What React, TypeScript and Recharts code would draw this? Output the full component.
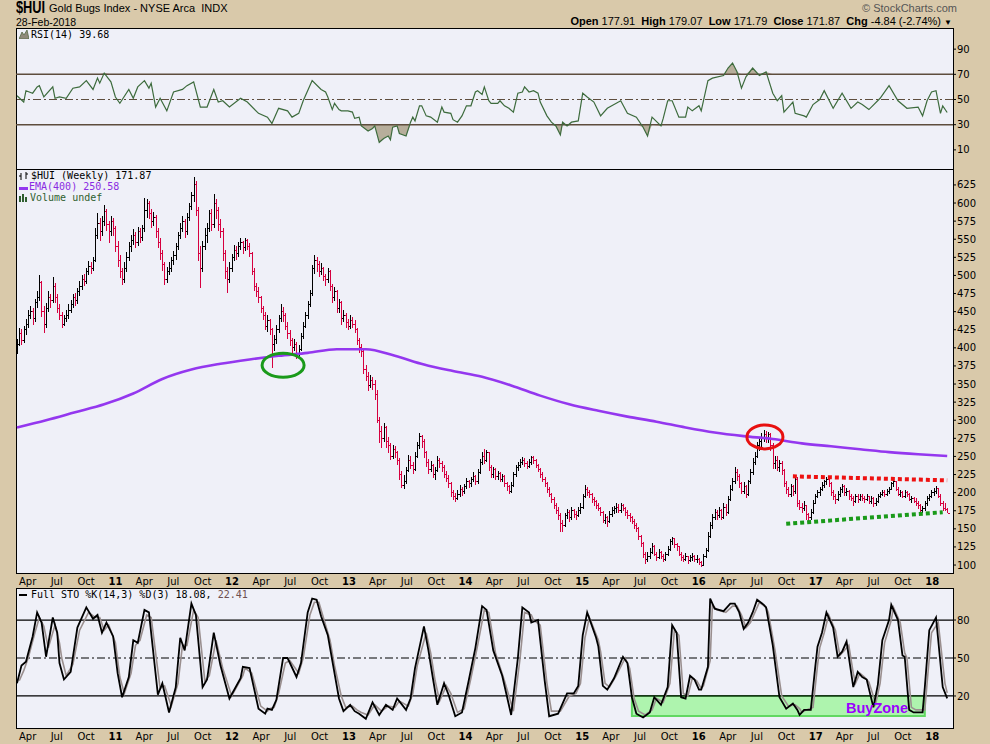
import React from 'react';
import { ComposedChart, Bar, Line, Area, XAxis, YAxis, ReferenceLine, ReferenceArea, ReferenceDot } from 'recharts';

// weekly bars as [high, low, close]; week 0 = week ending 5-Mar-2010
const bars2010 = [
  [412, 392, 405], [428, 402, 420], [426, 404, 410], [430, 406, 425], [440, 418, 432], [452, 428, 445], [458, 440, 450], [455, 432, 440], [468, 436, 462], [478, 455, 470],
  [500, 465, 490], [492, 442, 450], [458, 420, 432], [462, 428, 455], [478, 450, 470], [475, 455, 465], [498, 462, 485], [490, 462, 470], [474, 448, 455], [460, 438, 445],
  [450, 428, 432], [446, 430, 440], [452, 435, 445], [460, 440, 452], [466, 448, 460], [475, 455, 470], [476, 458, 465], [482, 460, 478], [492, 472, 485], [500, 480, 495],
  [502, 485, 492], [510, 488, 505], [520, 500, 512], [518, 502, 510], [526, 506, 520], [565, 518, 555], [586, 550, 572], [580, 548, 560], [582, 555, 575], [597, 568, 588],
  [592, 562, 570], [575, 545, 560], [582, 555, 575], [580, 555, 565],
];
const bars2011 = [
  [568, 532, 540], [548, 512, 520], [528, 496, 505], [510, 487, 495], [518, 490, 510], [532, 505, 525], [546, 520, 540], [556, 532, 548], [564, 542, 555], [560, 538, 545],
  [567, 540, 560], [565, 545, 552], [570, 548, 565], [607, 560, 590], [605, 580, 600], [603, 578, 585], [592, 565, 575], [588, 568, 580], [584, 552, 560], [565, 538, 545],
  [552, 522, 530], [535, 506, 515], [518, 487, 495], [512, 490, 505], [518, 500, 510], [526, 505, 520], [534, 514, 528], [545, 522, 540], [560, 535, 555], [572, 550, 565],
  [582, 560, 575], [578, 552, 560], [586, 556, 580], [600, 575, 595], [615, 590, 610], [636, 602, 625], [630, 582, 590], [595, 520, 530], [540, 482, 510], [548, 505, 540],
  [565, 535, 555], [572, 545, 565], [590, 560, 585], [592, 562, 570], [612, 566, 600], [606, 578, 590], [594, 562, 570], [578, 552, 560], [565, 520, 530], [535, 495, 505],
  [512, 476, 495], [518, 490, 510],
];
const bars2012 = [
  [530, 505, 525], [542, 520, 535], [540, 522, 530], [546, 525, 540], [552, 535, 545], [548, 530, 538], [552, 534, 548], [550, 535, 540], [545, 525, 530], [532, 500, 505],
  [510, 478, 485], [490, 470, 478], [484, 462, 470], [472, 448, 455], [458, 438, 445], [450, 425, 430], [445, 422, 438], [440, 418, 425], [428, 372, 405], [418, 395, 412],
  [432, 405, 425], [445, 420, 440], [460, 435, 450], [456, 436, 445], [448, 425, 430], [435, 412, 420], [425, 402, 410], [414, 390, 400], [412, 395, 405], [408, 385, 392],
  [404, 386, 398], [420, 395, 415], [435, 412, 430], [450, 428, 445], [465, 440, 460], [480, 456, 475], [515, 472, 510], [528, 502, 520], [525, 505, 515], [520, 498, 505],
  [517, 500, 510], [512, 492, 498], [502, 486, 495], [510, 490, 505], [508, 478, 485], [488, 462, 470], [484, 465, 478], [480, 448, 455], [468, 448, 462], [465, 432, 440],
  [452, 435, 445], [448, 428, 435],
];
const bars2013 = [
  [440, 425, 430], [445, 426, 438], [442, 428, 432], [438, 420, 425], [428, 404, 410], [414, 393, 400], [405, 388, 395], [398, 364, 370], [376, 354, 360], [366, 340, 348],
  [362, 344, 355], [360, 342, 350], [356, 328, 335], [342, 296, 300], [305, 268, 285], [292, 262, 275], [296, 270, 290], [292, 262, 270], [277, 255, 265], [268, 245, 250],
  [266, 246, 260], [264, 248, 255], [258, 238, 245], [248, 218, 225], [230, 206, 210], [224, 205, 215], [236, 212, 230], [252, 228, 245], [250, 232, 238], [242, 226, 232],
  [256, 230, 250], [270, 248, 265], [282, 260, 278], [280, 262, 270], [274, 248, 255], [258, 236, 242], [246, 226, 232], [244, 228, 238], [240, 220, 225], [236, 218, 230],
  [250, 228, 245], [248, 234, 240], [244, 228, 235], [238, 220, 225], [230, 214, 220], [224, 206, 212], [214, 194, 200], [204, 190, 195], [200, 187, 192], [204, 190, 198],
  [210, 194, 205], [208, 196, 202],
];
const bars2014 = [
  [212, 198, 208], [220, 205, 215], [218, 206, 212], [222, 208, 218], [228, 214, 222], [225, 210, 215], [232, 212, 228], [246, 226, 242], [256, 238, 250], [260, 240, 245],
  [259, 242, 255], [256, 230, 235], [238, 220, 225], [236, 220, 232], [234, 218, 222], [230, 218, 226], [228, 214, 218], [226, 214, 222], [224, 208, 212], [214, 202, 208],
  [210, 198, 202], [214, 200, 210], [228, 208, 225], [238, 222, 235], [242, 230, 238], [246, 234, 242], [249, 238, 245], [248, 236, 240], [244, 232, 236], [246, 234, 242],
  [250, 238, 248], [250, 240, 244], [246, 234, 238], [240, 228, 232], [234, 220, 225], [228, 214, 218], [222, 208, 212], [214, 200, 205], [208, 194, 198], [200, 186, 190],
  [194, 178, 182], [186, 170, 175], [180, 162, 168], [172, 145, 158], [162, 146, 155], [172, 152, 168], [178, 164, 172], [176, 160, 165], [180, 162, 175], [178, 165, 170],
  [174, 162, 168], [180, 166, 175],
];
const bars2015 = [
  [185, 170, 180], [198, 178, 195], [210, 192, 205], [208, 195, 200], [204, 192, 198], [200, 186, 190], [194, 182, 188], [190, 178, 182], [186, 174, 178], [180, 168, 172],
  [175, 158, 162], [170, 156, 165], [168, 152, 160], [174, 158, 170], [180, 166, 175], [182, 170, 178], [185, 172, 180], [184, 172, 176], [186, 172, 182], [184, 174, 178],
  [180, 168, 172], [176, 164, 168], [172, 160, 165], [168, 156, 160], [163, 150, 155], [158, 145, 150], [152, 135, 140], [142, 125, 130], [132, 110, 115], [118, 102, 108],
  [118, 104, 112], [124, 108, 118], [130, 115, 125], [127, 112, 115], [118, 105, 110], [122, 108, 118], [120, 108, 112], [115, 104, 108], [118, 106, 115], [126, 112, 122],
  [136, 120, 132], [139, 128, 136], [136, 124, 128], [130, 120, 125], [126, 112, 115], [118, 106, 110], [114, 104, 108], [116, 105, 112], [113, 102, 106], [114, 104, 110],
  [116, 106, 112], [114, 104, 108],
];
const bars2016 = [
  [114, 103, 108], [110, 100, 104], [106, 97, 100], [115, 99, 112], [124, 110, 120], [145, 118, 140], [160, 138, 155], [170, 150, 165], [178, 162, 172], [176, 162, 168],
  [180, 165, 175], [178, 162, 165], [185, 164, 180], [184, 168, 172], [195, 170, 190], [210, 188, 205], [220, 202, 215], [235, 212, 228], [232, 216, 222], [226, 206, 212],
  [215, 198, 202], [214, 198, 208], [210, 192, 198], [218, 196, 215], [232, 212, 228], [248, 225, 242], [256, 238, 250], [270, 248, 265], [276, 258, 270], [282, 262, 275],
  [286, 270, 280], [285, 268, 276], [284, 268, 280], [282, 258, 265], [268, 232, 240], [250, 232, 245], [250, 230, 235], [245, 228, 240], [244, 225, 230], [232, 208, 212],
  [216, 198, 205], [208, 194, 198], [212, 194, 208], [210, 196, 202], [224, 198, 218], [222, 180, 185], [190, 176, 180], [186, 172, 178], [188, 174, 182], [182, 162, 170],
  [172, 160, 165], [178, 162, 172], [190, 170, 185],
];
const bars2017 = [
  [198, 184, 195], [204, 192, 200], [208, 196, 205], [214, 202, 210], [218, 206, 215], [221, 210, 218], [220, 208, 212], [214, 196, 200], [204, 190, 195], [198, 184, 190],
  [202, 188, 198], [208, 194, 205], [212, 200, 208], [210, 196, 200], [206, 196, 202], [204, 190, 195], [198, 188, 192], [195, 182, 188], [198, 186, 195], [198, 186, 190],
  [198, 188, 195], [198, 188, 192], [195, 186, 190], [198, 188, 195], [196, 184, 188], [195, 184, 192], [194, 180, 185], [192, 182, 188], [198, 186, 195], [201, 192, 198],
  [204, 195, 200], [203, 194, 198], [205, 195, 202], [208, 198, 205], [215, 203, 212], [219, 208, 216], [216, 202, 205], [208, 195, 198], [204, 194, 200], [202, 192, 195],
  [204, 192, 200], [202, 194, 198], [200, 188, 190], [196, 186, 192], [194, 185, 188], [192, 182, 185], [188, 178, 182], [184, 170, 175], [182, 172, 178], [188, 175, 185],
  [195, 182, 192], [198, 188, 195],
];
const bars2018 = [
  [204, 192, 200], [206, 196, 202], [209, 198, 206], [207, 192, 195], [198, 182, 185], [188, 174, 178], [186, 174, 176.71], [179.07, 171.79, 171.87],
];

// EMA(400): [week, value]
const emaPoints = [
  [0, 290], [13, 300], [26, 311], [39, 322], [52, 337], [65, 357], [78, 370], [91, 378], [104, 384], [117, 389], [130, 393],
  [143, 398], [156, 398], [169, 389], [182, 377], [195, 368], [208, 360], [221, 348], [234, 334], [247, 322], [260, 313],
  [273, 305], [286, 298], [299, 290], [312, 283], [325, 278], [338, 274], [351, 268], [364, 264], [377, 260], [390, 256],
  [403, 253], [416, 250.58],
];

// RSI(14): [week, value]
const rsiPoints = [
  [0, 53], [3, 48], [4, 57], [7, 55], [9, 60], [10, 61], [12, 52], [16, 60], [17, 51], [19, 52], [22, 51], [25, 59], [28, 60],
  [31, 65], [34, 58], [36, 67], [37, 63], [39, 71], [42, 64], [44, 52], [46, 47], [50, 58], [52, 51], [54, 60], [57, 65],
  [59, 59], [60, 63], [62, 44], [64, 51], [67, 41], [70, 56], [74, 58], [76, 61], [79, 64], [82, 44], [85, 44], [88, 58],
  [90, 48], [92, 49], [95, 44], [100, 51], [103, 48], [108, 39], [112, 36], [114, 31], [117, 43], [121, 41], [123, 36],
  [126, 39], [128, 49], [132, 65], [136, 58], [138, 56], [139, 52], [141, 42], [142, 47], [144, 42], [145, 41], [148, 41],
  [150, 40], [151, 35], [153, 36], [154, 29], [157, 25], [159, 27], [160, 29], [162, 16], [164, 19], [166, 21], [167, 18],
  [168, 28], [170, 29], [171, 23], [174, 21], [176, 32], [177, 36], [178, 33], [180, 45], [181, 45], [183, 37], [185, 36],
  [188, 32], [190, 44], [191, 40], [194, 39], [195, 34], [197, 32], [199, 37], [201, 45], [203, 45], [205, 56], [206, 57],
  [208, 54], [209, 60], [211, 49], [212, 47], [215, 47], [216, 49], [218, 45], [220, 43], [222, 40], [224, 55], [226, 56],
  [227, 60], [229, 56], [231, 57], [233, 55], [234, 48], [237, 37], [239, 32], [241, 29], [243, 22], [244, 32], [246, 29],
  [248, 32], [251, 33], [253, 55], [255, 52], [258, 48], [261, 37], [264, 43], [267, 46], [270, 49], [273, 39], [277, 36],
  [280, 28], [282, 21], [284, 36], [288, 29], [289, 35], [291, 49], [293, 49], [296, 36], [299, 36], [300, 44], [302, 41],
  [305, 45], [306, 41], [309, 65], [311, 67], [316, 69], [318, 75], [320, 79], [322, 72], [324, 59], [326, 68], [329, 75],
  [332, 69], [335, 72], [338, 55], [340, 49], [342, 53], [343, 40], [346, 46], [347, 48], [348, 39], [352, 37], [353, 36],
  [356, 46], [359, 50], [361, 57], [365, 43], [369, 55], [373, 43], [376, 48], [378, 46], [381, 42], [386, 51], [390, 61],
  [394, 49], [398, 43], [403, 44], [405, 37], [407, 49], [409, 56], [411, 57], [413, 39], [414, 45], [416, 39.68],
];

// Full STO %K and %D: [week, value]
const stoK = [
  [0, 30], [2, 44], [4, 47], [7, 67], [9, 86], [11, 78], [13, 51], [16, 82], [18, 70], [19, 46], [21, 33], [24, 39], [27, 74],
  [31, 90], [34, 81], [36, 84], [38, 70], [40, 78], [43, 67], [45, 38], [47, 19], [50, 35], [52, 64], [54, 62], [57, 88],
  [59, 86], [63, 21], [65, 30], [68, 7], [71, 27], [73, 66], [75, 56], [78, 93], [80, 84], [83, 27], [85, 33], [88, 70],
  [91, 44], [95, 18], [100, 34], [101, 43], [104, 42], [108, 10], [111, 6], [112, 10], [114, 9], [116, 17], [119, 50],
  [121, 50], [125, 35], [127, 46], [130, 86], [132, 97], [134, 96], [136, 83], [139, 68], [141, 48], [144, 18], [146, 8],
  [149, 13], [151, 8], [153, 6], [156, 2], [159, 15], [162, 5], [165, 13], [168, 9], [170, 18], [174, 9], [176, 18],
  [178, 42], [182, 75], [184, 56], [186, 34], [188, 13], [191, 30], [193, 21], [196, 4], [199, 7], [202, 32], [205, 58],
  [208, 91], [210, 88], [213, 56], [217, 36], [221, 5], [224, 50], [226, 90], [229, 86], [230, 78], [233, 80], [236, 32],
  [238, 4], [242, 6], [246, 22], [249, 22], [251, 28], [253, 68], [255, 86], [259, 66], [260, 59], [262, 28], [264, 25],
  [267, 34], [271, 51], [273, 46], [275, 19], [277, 6], [280, 3], [283, 7], [285, 19], [288, 13], [291, 27], [293, 76],
  [295, 70], [297, 19], [299, 18], [301, 36], [303, 33], [305, 25], [306, 25], [309, 43], [310, 97], [312, 89], [316, 87],
  [319, 93], [321, 93], [323, 86], [325, 73], [327, 78], [329, 86], [331, 96], [334, 92], [335, 90], [338, 60], [341, 19],
  [344, 10], [347, 14], [349, 9], [350, 5], [352, 9], [355, 9], [357, 43], [358, 59], [360, 70], [362, 86], [365, 74],
  [367, 51], [369, 55], [371, 63], [373, 39], [374, 27], [376, 39], [378, 35], [380, 33], [383, 11], [385, 29], [387, 64],
  [390, 80], [391, 92], [394, 80], [396, 52], [397, 51], [399, 9], [401, 7], [405, 7], [406, 27], [408, 72], [411, 82],
  [412, 64], [414, 27], [416, 18.08],
];
const stoD = [
  [1, 32], [3, 40], [5, 50], [8, 70], [10, 82], [12, 75], [14, 58], [17, 76], [19, 62], [20, 50], [22, 36], [25, 45], [28, 72],
  [32, 86], [35, 82], [37, 82], [39, 72], [41, 76], [44, 62], [46, 35], [48, 22], [51, 38], [53, 60], [55, 64], [58, 84],
  [60, 82], [64, 26], [66, 28], [69, 12], [72, 30], [74, 60], [76, 60], [79, 88], [81, 82], [84, 32], [86, 36], [89, 64],
  [92, 42], [96, 20], [101, 36], [102, 42], [105, 38], [109, 12], [112, 8], [113, 10], [115, 11], [117, 22], [120, 46],
  [122, 48], [126, 38], [128, 50], [131, 84], [133, 94], [135, 94], [137, 82], [140, 64], [142, 44], [145, 20], [147, 11],
  [150, 12], [152, 9], [154, 7], [157, 5], [160, 13], [163, 8], [166, 12], [169, 11], [171, 16], [175, 12], [177, 22],
  [179, 44], [183, 70], [185, 54], [187, 32], [189, 16], [192, 28], [194, 22], [197, 7], [200, 10], [203, 34], [206, 60],
  [209, 88], [211, 86], [214, 54], [218, 32], [222, 8], [225, 50], [227, 86], [230, 84], [231, 80], [234, 76], [237, 30],
  [239, 8], [243, 8], [247, 20], [250, 22], [252, 30], [254, 66], [256, 82], [260, 64], [261, 55], [263, 30], [265, 27],
  [268, 36], [272, 50], [274, 42], [276, 18], [278, 8], [281, 5], [284, 9], [286, 18], [289, 15], [292, 30], [294, 72],
  [296, 68], [298, 22], [300, 20], [302, 34], [304, 32], [306, 26], [307, 28], [310, 48], [311, 92], [313, 88], [317, 86],
  [320, 91], [322, 91], [324, 84], [326, 74], [328, 78], [330, 86], [332, 94], [335, 90], [336, 86], [339, 56], [342, 20],
  [345, 12], [348, 13], [350, 10], [351, 7], [353, 9], [356, 11], [358, 44], [359, 58], [361, 70], [363, 84], [366, 72],
  [368, 52], [370, 56], [372, 60], [374, 38], [375, 30], [377, 38], [379, 35], [381, 31], [384, 14], [386, 30], [388, 62],
  [391, 80], [392, 90], [395, 78], [397, 54], [398, 50], [400, 11], [402, 9], [406, 9], [407, 30], [409, 70], [412, 78],
  [413, 62], [415, 30], [416, 22.41],
];

// x-axis labels, one per quarter starting Apr 2010
const tickLabels = [
  'Apr', 'Jul', 'Oct', '11', 'Apr', 'Jul', 'Oct', '12', 'Apr', 'Jul', 'Oct', '13', 'Apr', 'Jul', 'Oct', '14',
  'Apr', 'Jul', 'Oct', '15', 'Apr', 'Jul', 'Oct', '16', 'Apr', 'Jul', 'Oct', '17', 'Apr', 'Jul', 'Oct', '18',
];
const priceTicks = [100, 125, 150, 175, 200, 225, 250, 275, 300, 325, 350, 375, 400, 425, 450, 475, 500, 525, 550, 575, 600, 625];

const WEEK_MS = 7 * 86400000;
const START = Date.UTC(2010, 2, 5);
const tickWeeks = tickLabels.map((_, k) => (Date.UTC(2010, 3 + 3 * k, 1) - START) / WEEK_MS);
const tickLabelOf = new Map(tickWeeks.map((w, k) => [w, tickLabels[k]]));

const allBars = [...bars2010, ...bars2011, ...bars2012, ...bars2013, ...bars2014, ...bars2015, ...bars2016, ...bars2017, ...bars2018];
const emaByWeek = new Map(emaPoints.map(([w, v]) => [w, v]));
const priceRows = allBars.map(([high, low, close], w) => ({
  w,
  high,
  low,
  close,
  prev: w > 0 ? allBars[w - 1][2] : close,
  ema: emaByWeek.has(w) ? emaByWeek.get(w) : null,
}));

const rsiRows = rsiPoints.map(([w, v]) => ({ w, v, lo: [Math.min(v, 30), 30], hi: [70, Math.max(v, 70)] }));

const stoMap = new Map<number, any>();
stoK.forEach(([w, v]) => stoMap.set(w, { ...(stoMap.get(w) || { w }), k: v }));
stoD.forEach(([w, v]) => stoMap.set(w, { ...(stoMap.get(w) || { w }), d: v }));
const stoRows = [...stoMap.values()].sort((a, b) => a.w - b.w);

const X_DOMAIN = [-0.45, 418.6];
const BG = '#d9c9aa';
const PANEL = '#eff0f8';
const AXIS_FONT = 'DejaVu Sans, sans-serif';
const MONO = 'DejaVu Sans Mono, monospace';
const SANS = 'Liberation Sans, Arial, sans-serif';

const OhlcBar = (props: any) => {
  const { x, y, width, height, payload } = props;
  if (!payload || height == null || isNaN(y)) return null;
  const top = Math.min(y, y + height);
  const h = Math.abs(height);
  const span = payload.high - payload.low || 1;
  const yOf = (v: number) => top + ((payload.high - Math.max(payload.low, Math.min(payload.high, v))) / span) * h;
  const cx = Math.round(x + width / 2) + 0.5;
  const color = payload.close < payload.prev ? '#d6003f' : '#000000';
  return (
    <g stroke={color} strokeWidth={1} shapeRendering="crispEdges">
      <line x1={cx} x2={cx} y1={top} y2={top + h} />
      <line x1={cx} x2={cx + 2} y1={yOf(payload.close)} y2={yOf(payload.close)} />
      <line x1={cx - 2} x2={cx} y1={yOf(payload.prev)} y2={yOf(payload.prev)} />
    </g>
  );
};

const XTick = ({ x, y, payload }: any) => {
  const lbl = tickLabelOf.get(payload.value) || '';
  const isYear = /^\d/.test(lbl);
  return (
    <text x={x + 2} y={y + 12} textAnchor="middle" fontSize={10} fontFamily={AXIS_FONT} fontWeight={isYear ? 700 : 400} fill="#000">
      {lbl}
    </text>
  );
};

const ellipse = (rx: number, ry: number, color: string) => (p: any) => (
  <ellipse cx={p.cx} cy={p.cy} rx={rx} ry={ry} fill="none" stroke={color} strokeWidth={3} />
);

const yTick = { fontSize: 10, fill: '#000', fontFamily: AXIS_FONT };

const Txt = ({ left, top, size, children, style }: any) => (
  <div style={{ position: 'absolute', left, top, fontSize: size, lineHeight: 1, whiteSpace: 'nowrap', ...style }}>{children}</div>
);

const panel = (top: number, bottom: number) => (
  <div
    style={{
      position: 'absolute', left: 16, top, width: 938, height: bottom - top + 1,
      background: PANEL, border: '1px solid #000', boxSizing: 'border-box',
    }}
  />
);

export default function App() {
  return (
    <div style={{ position: 'absolute', left: 0, top: 0, width: 990, height: 744, background: BG, overflow: 'hidden' }}>
      {panel(28, 169)}
      {panel(169, 573)}
      {panel(588, 728)}

      {/* RSI panel */}
      <div style={{ position: 'absolute', left: 0, top: 28 }}>
        <ComposedChart width={990} height={141} data={rsiRows} margin={{ top: 0, right: 0, bottom: 0, left: 16 }}>
          <XAxis dataKey="w" type="number" domain={X_DOMAIN} allowDataOverflow hide />
          <YAxis orientation="right" width={37} domain={[-5.2, 106.8]} allowDataOverflow ticks={[10, 30, 50, 70, 90]}
            axisLine={false} tickSize={3} tickMargin={1} tickLine={{ stroke: '#000' }} tick={yTick} />
          <ReferenceLine y={70} stroke="#5e4d3d" strokeWidth={1.5} />
          <ReferenceLine y={30} stroke="#5e4d3d" strokeWidth={1.5} />
          <ReferenceLine y={50} stroke="#5e4d3d" strokeWidth={1.2} strokeDasharray="8 3 2 3" />
          <Area dataKey="lo" stroke="none" fill="#b7ae9b" fillOpacity={1} isAnimationActive={false} />
          <Area dataKey="hi" stroke="none" fill="#b7ae9b" fillOpacity={1} isAnimationActive={false} />
          <Line dataKey="v" stroke="#3d6b3d" strokeWidth={1.2} dot={false} isAnimationActive={false} />
        </ComposedChart>
      </div>

      {/* Price panel */}
      <div style={{ position: 'absolute', left: 0, top: 169 }}>
        <ComposedChart width={990} height={419} data={priceRows} margin={{ top: 0, right: 0, bottom: 0, left: 16 }}>
          <XAxis dataKey="w" type="number" domain={X_DOMAIN} allowDataOverflow ticks={tickWeeks} interval={0}
            height={15} axisLine={false} tickLine={false} tickSize={0} tickMargin={0} tick={<XTick />} />
          <YAxis orientation="right" width={37} domain={[89, 647]} allowDataOverflow ticks={priceTicks} interval={0}
            axisLine={false} tickSize={3} tickMargin={1} tickLine={{ stroke: '#000' }} tick={yTick} />
          <Bar dataKey={(d: any) => [d.low, d.high]} barSize={2} shape={<OhlcBar />} isAnimationActive={false} />
          <Line type="monotone" dataKey="ema" stroke="#9437ef" strokeWidth={2.6} dot={false} connectNulls isAnimationActive={false} />
          <ReferenceLine segment={[{ x: 347, y: 222.5 }, { x: 416, y: 217 }]} stroke="#ee1111" strokeWidth={4} strokeDasharray="4 3" />
          <ReferenceLine segment={[{ x: 344, y: 157 }, { x: 414, y: 173 }]} stroke="#1a9a1a" strokeWidth={4} strokeDasharray="4 3" />
          <ReferenceDot x={119} y={376} r={12} shape={ellipse(21, 12, '#1a9a1a')} />
          <ReferenceDot x={334.5} y={277} r={12} shape={ellipse(18, 12, '#e81010')} />
        </ComposedChart>
      </div>

      {/* Stochastic panel */}
      <div style={{ position: 'absolute', left: 0, top: 588 }}>
        <ComposedChart width={990} height={156} data={stoRows} margin={{ top: 0, right: 0, bottom: 0, left: 16 }}>
          <XAxis dataKey="w" type="number" domain={X_DOMAIN} allowDataOverflow ticks={tickWeeks} interval={0}
            height={16} axisLine={false} tickLine={false} tickSize={0} tickMargin={0} tick={<XTick />} />
          <YAxis orientation="right" width={37} domain={[-5.3, 105.3]} allowDataOverflow ticks={[20, 50, 80]}
            axisLine={false} tickSize={3} tickMargin={1} tickLine={{ stroke: '#000' }} tick={yTick} />
          <ReferenceLine y={80} stroke="#000" strokeWidth={1.2} />
          <ReferenceLine y={50} stroke="#000" strokeWidth={1.2} strokeDasharray="8 3 2 3" />
          <ReferenceArea x1={275} x2={406} y1={4.2} y2={20} fill="#aef4ae" fillOpacity={1} stroke="#62d862" strokeWidth={2} />
          <ReferenceLine y={20} stroke="#000" strokeWidth={1.2} />
          <Line dataKey="d" stroke="#9a8f8f" strokeWidth={1.6} dot={false} connectNulls isAnimationActive={false} />
          <Line dataKey="k" stroke="#000" strokeWidth={1.8} dot={false} connectNulls isAnimationActive={false} />
        </ComposedChart>
      </div>

      {/* header */}
      <Txt left={16} top={0} size={16} style={{ fontFamily: SANS, fontWeight: 700, transform: 'scaleX(0.8)', transformOrigin: 'left top' }}>$HUI</Txt>
      <Txt left={49} top={3} size={11} style={{ fontFamily: SANS }}>Gold Bugs Index - NYSE Arca&nbsp; INDX</Txt>
      <Txt left={16} top={17} size={10.5} style={{ fontFamily: SANS }}>28-Feb-2018</Txt>
      <Txt left={862} top={3} size={11} style={{ fontFamily: SANS, color: '#555' }}>© StockCharts.com</Txt>
      <div style={{ position: 'absolute', right: 38, top: 16, fontSize: 11, lineHeight: 1, fontFamily: SANS, whiteSpace: 'nowrap' }}>
        <b>Open</b> 177.91&nbsp; <b>High</b> 179.07&nbsp; <b>Low</b> 171.79&nbsp; <b>Close</b> 171.87&nbsp; <b>Chg</b> -4.84 (-2.74%) <span style={{ fontSize: 8 }}>▼</span>
      </div>

      {/* legends */}
      <svg style={{ position: 'absolute', left: 19, top: 30 }} width={10} height={9}>
        <polygon points="0,9 3,2 5,5 8,0 10,9" fill="#8f8a7a" stroke="#556b45" strokeWidth={0.8} />
      </svg>
      <Txt left={31} top={30} size={10} style={{ fontFamily: MONO }}>RSI(14) 39.68</Txt>

      <svg style={{ position: 'absolute', left: 19, top: 171 }} width={10} height={10}>
        <path d="M2 2V9M2 5H0M7 1V8M7 3H9" stroke="#000" strokeWidth={1} />
      </svg>
      <Txt left={31} top={171} size={10} style={{ fontFamily: MONO }}>$HUI (Weekly) 171.87</Txt>
      <div style={{ position: 'absolute', left: 19, top: 187, width: 9, height: 2.5, background: '#9437ef' }} />
      <Txt left={29} top={182} size={10} style={{ fontFamily: MONO, color: '#8a2be2' }}>EMA(400) 250.58</Txt>
      <svg style={{ position: 'absolute', left: 19, top: 193 }} width={10} height={9}>
        <path d="M1 9V3M4 9V1M7 9V4" stroke="#2f5f2f" strokeWidth={2} />
      </svg>
      <Txt left={30} top={193} size={10} style={{ fontFamily: MONO, color: '#2f5f2f' }}>Volume undef</Txt>

      <div style={{ position: 'absolute', left: 19, top: 594, width: 8, height: 2, background: '#000' }} />
      <Txt left={31} top={590} size={10} style={{ fontFamily: MONO }}>
        Full STO %K(14,3) %D(3) 18.08, <span style={{ color: '#6e4f4f' }}>22.41</span>
      </Txt>
      <Txt left={846} top={701} size={14.5} style={{ fontFamily: SANS, fontWeight: 700, color: '#9b00ff' }}>BuyZone</Txt>
    </div>
  );
}
